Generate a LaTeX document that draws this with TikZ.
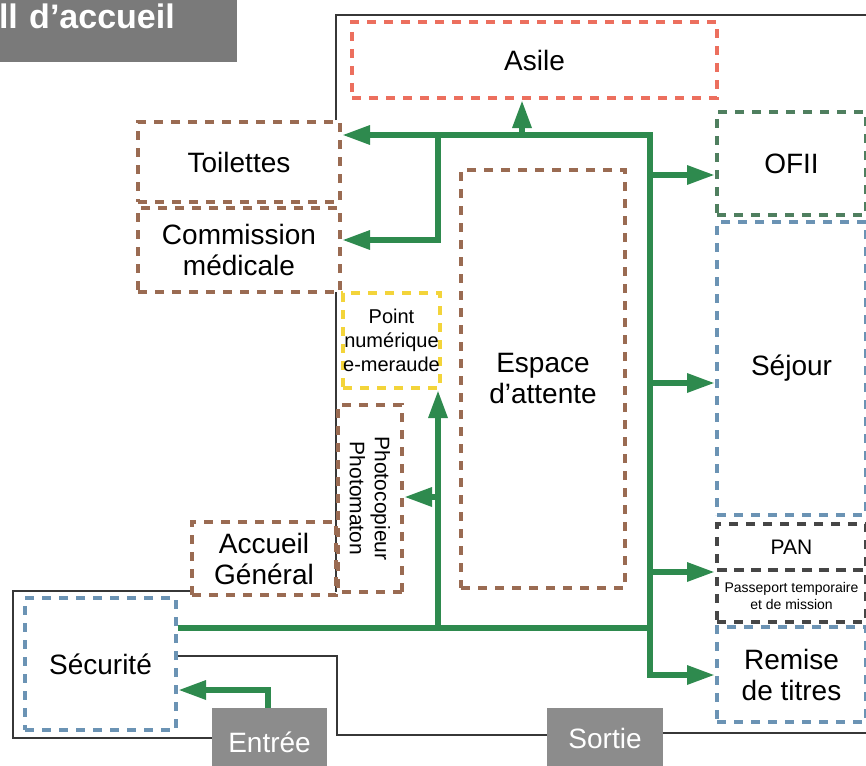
\documentclass[tikz,border=0pt]{standalone}
\usepackage{fontspec}
\setmainfont{Liberation Sans}
\usepackage{xcolor}
\usepackage{tikz}
\usetikzlibrary{arrows.meta,positioning}

\definecolor{fleche}{RGB}{46,138,78}
\definecolor{rouge}{RGB}{236,111,94}
\definecolor{brun}{RGB}{154,107,82}
\definecolor{jaune}{RGB}{243,212,58}
\definecolor{vert}{RGB}{79,127,95}
\definecolor{bleu}{RGB}{107,147,180}
\definecolor{sombre}{RGB}{70,70,70}
\definecolor{mur}{RGB}{55,55,55}
\definecolor{gristitre}{RGB}{122,122,122}
\definecolor{grisporte}{RGB}{140,140,140}

\begin{document}
\begin{tikzpicture}[x=0.5pt,y=-0.5pt,>={Triangle[length=14pt,width=9pt]},
  zone/.style={draw,line width=2pt,dash pattern=on 4.5pt off 4pt,rectangle,align=center,inner sep=0pt,font=\fontsize{14}{15.5}\selectfont},
  small/.style={font=\fontsize{10}{12}\selectfont},
  tiny/.style={font=\fontsize{7}{8.5}\selectfont},
  door/.style={fill=grisporte,text=white,inner sep=0pt,font=\fontsize{14}{16}\selectfont},
  flow/.style={draw=fleche,line width=3pt},
  wall/.style={draw=mur,line width=1pt}]

    \useasboundingbox (0,0) rectangle (866,765);

    % The walls
    \draw[wall] (336,120) -- (336,15) -- (866,15);
    \draw[wall] (336,292) -- (336,592);
    \draw[wall] (192,591) -- (13,591) -- (13,738) -- (212,738);
    \draw[wall] (176,656) -- (337,656) -- (337,735) -- (547,735);
    \draw[wall] (663,733) -- (866,733);

    % Doors and title
    \node [door,fill=gristitre,font=\bfseries\fontsize{17}{20}\selectfont,minimum width=128.5pt,minimum height=46pt,text width=109.5pt,align=left] at (108.5,16) (titre) {ll d'accueil};
    \node [door,minimum width=57.5pt,minimum height=34pt] at (269.5,742) (entree) {Entrée};
    \node [door,minimum width=58pt,minimum height=30pt] at (605,738) (sortie) {Sortie};

    % The zones
    \node [zone,draw=rouge,minimum width=182.5pt,minimum height=38pt] at (534.5,60) (asile) {Asile};
    \node [zone,draw=brun,minimum width=101pt,minimum height=40pt] at (239,162) (toilettes) {Toilettes};
    \node [zone,draw=brun,minimum width=101pt,minimum height=42pt] at (239,250) (commission) {Commission\\médicale};
    \node [zone,draw=jaune,small,minimum width=48.5pt,minimum height=47.5pt] at (391.5,340.5) (numerique) {Point\\numérique\\e-meraude};
    \node [zone,draw=brun,font=\fontsize{10.5}{12.5}\selectfont,rotate=-90,minimum width=93.5pt,minimum height=32pt] at (370,498.5) (photo) {Photocopieur\\Photomaton};
    \node [zone,draw=brun,minimum width=72pt,minimum height=36.5pt] at (264,558.5) (accueil) {Accueil\\Général};
    \node [zone,draw=brun,minimum width=82pt,minimum height=209pt] at (543,379) (attente) {Espace\\d'attente};
    \node [zone,draw=vert,minimum width=74.5pt,minimum height=51.5pt] at (791.5,163.5) (ofii) {OFII};
    \node [zone,draw=bleu,minimum width=74.5pt,minimum height=146.5pt] at (791.5,368.5) (sejour) {Séjour};
    \node [zone,draw=sombre,font=\fontsize{10.5}{12}\selectfont,minimum width=74.5pt,minimum height=23pt] at (791.5,547) (pan) {PAN};
    \node [zone,draw=sombre,tiny,minimum width=74.5pt,minimum height=26pt] at (791.5,596) (passeport) {Passeport temporaire\\et de mission};
    \node [zone,draw=bleu,minimum width=74.5pt,minimum height=47.5pt] at (791.5,674.5) (remise) {Remise\\de titres};
    \node [zone,draw=bleu,minimum width=75.5pt,minimum height=66pt] at (100.5,664) (securite) {Sécurité};

    % Junctions of the flow
    \coordinate (haut) at (650,135);
    \coordinate (bas) at (650,675);
    \coordinate (fourche) at (438,135);
    \coordinate (coude) at (438,240);
    \coordinate (montee) at (522,135);
    \coordinate (jofii) at (650,175);
    \coordinate (jsejour) at (650,383);
    \coordinate (jpan) at (650,572);
    \coordinate (couloir) at (650,628);
    \coordinate (pied) at (438,628);
    \coordinate (jphoto) at (438,497);
    \coordinate (entcoude) at (268,690);

    % Flow branches
    \draw[flow,<->] (haut -| toilettes.east) -- (haut) -- (bas) -- (bas -| remise.west);
    \draw[flow,->] (montee) -- (montee |- asile.south);
    \draw[flow,->] (fourche) -- (coude) -- (coude -| commission.east);
    \draw[flow,->] (jofii) -- (jofii -| ofii.west);
    \draw[flow,->] (jsejour) -- (jsejour -| sejour.west);
    \draw[flow,->] (jpan) -- (jpan -| pan.west);
    \draw[flow] (securite.east |- couloir) -- (couloir);
    \draw[flow,->] (pied) -- (pied |- numerique.south);
    \draw[flow,->] (jphoto) -- (jphoto -| photo.north);
    \draw[flow,->] (entree.north -| entcoude) -- (entcoude) -- (entcoude -| securite.east);
\end{tikzpicture}
\end{document}
